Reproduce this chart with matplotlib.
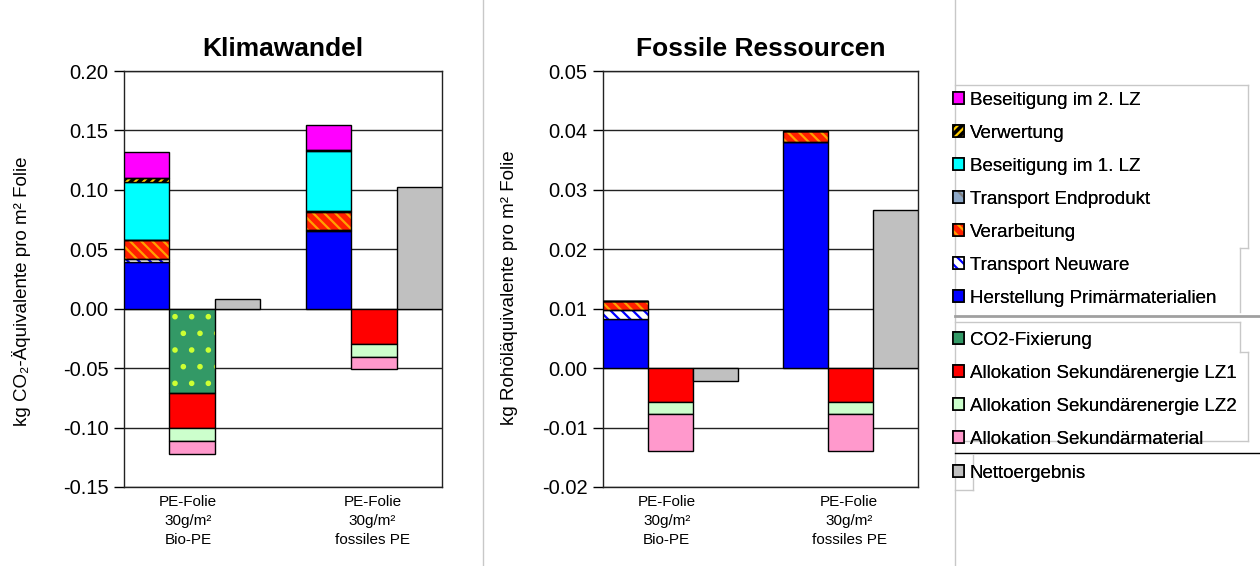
import matplotlib
matplotlib.use("Agg")
import matplotlib.pyplot as plt
import matplotlib.patches as mpatches
from matplotlib.legend_handler import HandlerTuple
from matplotlib.lines import Line2D

plt.rcParams['font.family'] = ['Liberation Sans', 'DejaVu Sans']
plt.rcParams['hatch.linewidth'] = 1.6

categories = ['PE-Folie\n30g/m²\nBio-PE', 'PE-Folie\n30g/m²\nfossiles PE']

# Klimawandel, kg CO2-Aequivalente pro m2 Folie  (Bio-PE, fossiles PE)
kw_herstellung = [0.0394, 0.0653]
kw_transport_neu = [0.0022, 0.0010]
kw_verarbeitung = [0.0161, 0.0151]
kw_transport_end = [0.0004, 0.0004]
kw_beseitigung1 = [0.0489, 0.0511]
kw_verwertung = [0.0030, 0.0010]
kw_beseitigung2 = [0.0215, 0.0209]
kw_co2 = [-0.0712, 0.0]
kw_sek_lz1 = [-0.0290, -0.0298]
kw_sek_lz2 = [-0.0108, -0.0105]
kw_sek_mat = [-0.0110, -0.0106]
kw_netto = [0.0082, 0.1025]

# Fossile Ressourcen, kg Rohoelaequivalente pro m2 Folie
fr_herstellung = [0.0083, 0.0381]
fr_transport_neu = [0.0014, 0.0]
fr_verarbeitung = [0.0016, 0.0018]
fr_transport_end = [0.0, 0.0]
fr_beseitigung1 = [0.0, 0.0]
fr_verwertung = [0.0, 0.0]
fr_beseitigung2 = [0.0, 0.0]
fr_co2 = [0.0, 0.0]
fr_sek_lz1 = [-0.0057, -0.0057]
fr_sek_lz2 = [-0.0021, -0.0021]
fr_sek_mat = [-0.0061, -0.0061]
fr_netto = [-0.0021, 0.0266]

# name, face, hatch, hatch colour
styles = {
    'Beseitigung im 2. LZ': ('#FF00FF', None, None),
    'Verwertung': ('#000000', '////', '#FFCC00'),
    'Beseitigung im 1. LZ': ('#00FFFF', None, None),
    'Transport Endprodukt': ('#8EA9C8', '\\\\', '#808080'),
    'Verarbeitung': ('#FF2000', '\\\\\\', '#FFA000'),
    'Transport Neuware': ('#FFFFFF', '\\\\\\', '#0000FF'),
    'Herstellung Primärmaterialien': ('#0000FF', None, None),
    'CO2-Fixierung': ('#339966', '.', '#CCFF33'),
    'Allokation Sekundärenergie LZ1': ('#FF0000', None, None),
    'Allokation Sekundärenergie LZ2': ('#CCFFCC', None, None),
    'Allokation Sekundärmaterial': ('#FF99CC', None, None),
    'Nettoergebnis': ('#C0C0C0', None, None),
}


def stack_bar(ax, x, h, bottom, name):
    face, hatch, hcol = styles[name]
    if hatch:
        ax.bar(x, h, 1.0, bottom=bottom, align='edge', color=face,
               hatch=hatch, edgecolor=hcol, linewidth=0, zorder=3)
        ax.bar(x, h, 1.0, bottom=bottom, align='edge', fill=False,
               edgecolor='black', linewidth=1.0, zorder=4)
    else:
        ax.bar(x, h, 1.0, bottom=bottom, align='edge', color=face,
               edgecolor='black', linewidth=1.0, zorder=3)


def draw_chart(ax, pos, neg, netto, title, ylabel, ylim, step):
    for i in range(2):
        x0 = 4 * i
        bottom = 0.0
        for name, vals in pos:
            stack_bar(ax, x0, vals[i], bottom, name)
            bottom += vals[i]
        bottom = 0.0
        for name, vals in neg:
            if vals[i] != 0:
                stack_bar(ax, x0 + 1, vals[i], bottom, name)
                bottom += vals[i]
        stack_bar(ax, x0 + 2, netto[i], 0.0, 'Nettoergebnis')

    ax.set_xlim(0, 7)
    ax.set_ylim(*ylim)
    n = int(round((ylim[1] - ylim[0]) / step))
    ticks = [ylim[0] + k * step for k in range(n + 1)]
    ax.set_yticks(ticks)
    ax.set_yticklabels(['%.2f' % t for t in ticks], fontsize=14.5)
    ax.yaxis.grid(True, color='#222222', linewidth=1.0, zorder=0)
    ax.set_axisbelow(True)
    ax.tick_params(axis='y', length=7, width=1, pad=4, colors='black')
    ax.set_xticks([1.42, 5.47])
    ax.set_xticklabels(categories, fontsize=11, linespacing=1.45)
    ax.tick_params(axis='x', length=0, pad=6)
    for s in ax.spines.values():
        s.set_color('#222222')
        s.set_linewidth(1.0)
    ax.set_title(title, fontsize=19, fontweight='bold', pad=11)
    ax.set_ylabel(ylabel, fontsize=13.5)


fig = plt.figure(figsize=(12.6, 5.66), dpi=100)
W, H = 1260.0, 566.0
ax1 = fig.add_axes([123.7 / W, 1 - 487 / H, (442 - 123.7) / W, 416 / H])
ax2 = fig.add_axes([602.7 / W, 1 - 487 / H, (918 - 602.7) / W, 416 / H])

draw_chart(ax1,
           [('Herstellung Primärmaterialien', kw_herstellung),
            ('Transport Neuware', kw_transport_neu),
            ('Verarbeitung', kw_verarbeitung),
            ('Transport Endprodukt', kw_transport_end),
            ('Beseitigung im 1. LZ', kw_beseitigung1),
            ('Verwertung', kw_verwertung),
            ('Beseitigung im 2. LZ', kw_beseitigung2)],
           [('CO2-Fixierung', kw_co2),
            ('Allokation Sekundärenergie LZ1', kw_sek_lz1),
            ('Allokation Sekundärenergie LZ2', kw_sek_lz2),
            ('Allokation Sekundärmaterial', kw_sek_mat)],
           kw_netto, 'Klimawandel', 'kg CO₂-Äquivalente pro m² Folie',
           (-0.15, 0.20), 0.05)
draw_chart(ax2,
           [('Herstellung Primärmaterialien', fr_herstellung),
            ('Transport Neuware', fr_transport_neu),
            ('Verarbeitung', fr_verarbeitung),
            ('Transport Endprodukt', fr_transport_end),
            ('Beseitigung im 1. LZ', fr_beseitigung1),
            ('Verwertung', fr_verwertung),
            ('Beseitigung im 2. LZ', fr_beseitigung2)],
           [('CO2-Fixierung', fr_co2),
            ('Allokation Sekundärenergie LZ1', fr_sek_lz1),
            ('Allokation Sekundärenergie LZ2', fr_sek_lz2),
            ('Allokation Sekundärmaterial', fr_sek_mat)],
           fr_netto, 'Fossile Ressourcen', 'kg Rohöläquivalente pro m² Folie',
           (-0.02, 0.05), 0.01)
ax1.yaxis.set_label_coords(-0.29, 0.47)
ax2.yaxis.set_label_coords(-0.27, 0.48)


def legend_handle(name):
    face, hatch, hcol = styles[name]
    if hatch:
        fill = mpatches.Patch(facecolor=face, hatch=hatch, edgecolor=hcol, linewidth=0)
    else:
        fill = mpatches.Patch(facecolor=face, linewidth=0)
    edge = mpatches.Patch(facecolor='none', edgecolor='black', linewidth=1.2)
    return (fill, edge)


groups = [
    (['Beseitigung im 2. LZ', 'Verwertung', 'Beseitigung im 1. LZ',
      'Transport Endprodukt', 'Verarbeitung', 'Transport Neuware',
      'Herstellung Primärmaterialien'], 92),
    (['CO2-Fixierung', 'Allokation Sekundärenergie LZ1',
      'Allokation Sekundärenergie LZ2', 'Allokation Sekundärmaterial'], 332),
    (['Nettoergebnis'], 465),
]
for names, top in groups:
    leg = fig.legend([legend_handle(n) for n in names], names,
                     handler_map={tuple: HandlerTuple(ndivide=1)},
                     loc='upper left', bbox_to_anchor=(953 / W, 1 - top / H),
                     frameon=False, fontsize=13.5, handlelength=0.6,
                     handleheight=0.6, handletextpad=0.3, labelspacing=0.85,
                     borderpad=0, borderaxespad=0)
    fig.add_artist(leg)

# panel separators and legend frame pieces
sep = '#C8C8C8'
frame = [
    ([483, 483], [0, 566], sep, 1.0),
    ([955, 955], [0, 566], sep, 1.0),
    ([955, 1248], [85, 85], sep, 1.0),
    ([1248, 1248], [85, 248], sep, 1.0),
    ([1240, 1248], [248, 248], sep, 1.0),
    ([1240, 1240], [248, 312], sep, 1.0),
    ([955, 1260], [316, 316], '#A0A0A0', 2.0),
    ([955, 1240], [322, 322], sep, 1.0),
    ([1240, 1240], [322, 352], sep, 1.0),
    ([1240, 1248], [352, 352], sep, 1.0),
    ([1248, 1248], [352, 441], sep, 1.0),
    ([955, 1248], [441, 441], sep, 1.0),
    ([955, 1260], [453, 453], '#000000', 1.0),
    ([973, 973], [455, 490], sep, 1.0),
    ([955, 973], [490, 490], sep, 1.0),
]
for xs, ys, c, lw in frame:
    fig.add_artist(Line2D([x / W for x in xs], [1 - y / H for y in ys],
                          color=c, linewidth=lw, transform=fig.transFigure))

fig.savefig('out.png', dpi=100)
